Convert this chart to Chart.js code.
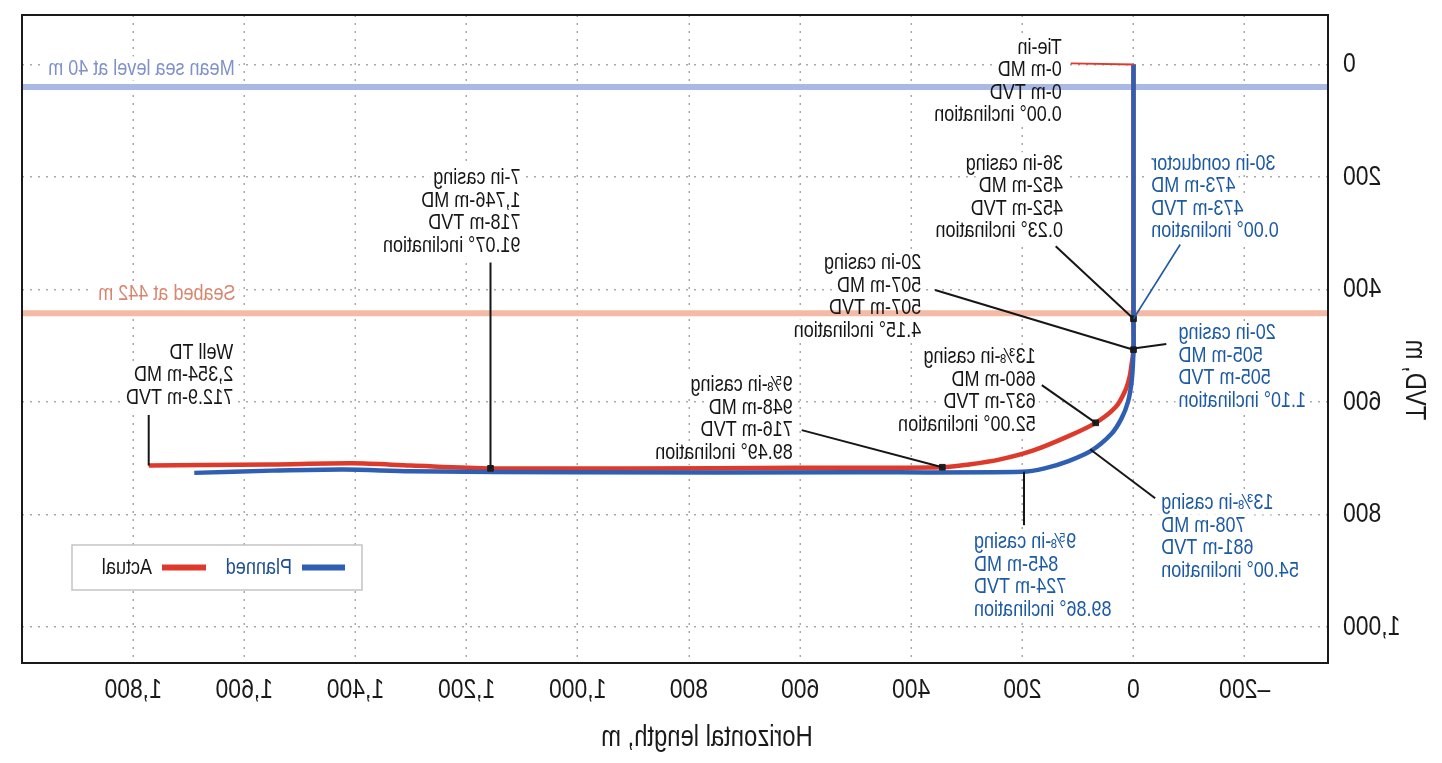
<!DOCTYPE html>
<html>
<head>
<meta charset="utf-8">
<title>Well path</title>
<script src="https://cdn.jsdelivr.net/npm/chart.js@4.4.1/dist/chart.umd.min.js"></script>
<style>
  html, body { margin: 0; padding: 0; background: #fff; }
  /* the reference picture is a mirror image, so the whole canvas is flipped */
  #wrap { width: 1442px; height: 763px; transform: scaleX(-1); }
</style>
</head>
<body>
<div id="wrap"><canvas id="wellChart" width="1442" height="763"></canvas></div>
<script>
"use strict";

// planned well path: horizontal length (m) and TVD (m)
var plannedLength = [0, 0, 0, 3, 10, 22, 40, 75, 117, 160, 200, 500, 1000, 1300, 1420, 1550, 1690];
var plannedTVD    = [0, 452, 505, 560, 600, 630, 657, 686, 705, 718, 724, 725, 725, 723, 720, 722, 726];

// actual (drilled) well path
var actualLength = [0, 0, 0, 3, 7, 15, 32, 68, 120, 180, 240, 296, 344, 600, 900, 1157, 1300, 1403, 1550, 1672, 1772];
var actualTVD    = [0, 452, 507, 530, 555, 580, 609, 637, 662, 686, 702, 711, 716, 717, 718, 718, 713, 709, 711, 712, 713];

// casing shoes on the actual path
var casingLength = [0, 0, 68, 344, 1157];
var casingTVD    = [452, 507, 637, 716, 718];

var seaLevelTVD = 40;
var seabedTVD = 442;

var xTicks = [-200, 0, 200, 400, 600, 800, 1000, 1200, 1400, 1600, 1800];
var yTicks = [0, 200, 400, 600, 800, 1000];

var noteLines = [
  ['Tie-in', '0-m MD', '0-m TVD', '0.00\u00b0 inclination'],
  ['36-in casing', '452-m MD', '452-m TVD', '0.23\u00b0 inclination'],
  ['30-in conductor', '473-m MD', '473-m TVD', '0.00\u00b0 inclination'],
  ['20-in casing', '507-m MD', '507-m TVD', '4.15\u00b0 inclination'],
  ['20-in casing', '505-m MD', '505-m TVD', '1.10\u00b0 inclination'],
  ['13\u215c-in casing', '660-m MD', '637-m TVD', '52.00\u00b0 inclination'],
  ['13\u215c-in casing', '708-m MD', '681-m TVD', '54.00\u00b0 inclination'],
  ['9\u215d-in casing', '948-m MD', '716-m TVD', '89.49\u00b0 inclination'],
  ['9\u215d-in casing', '845-m MD', '724-m TVD', '89.86\u00b0 inclination'],
  ['7-in casing', '1,746-m MD', '718-m TVD', '91.07\u00b0 inclination'],
  ['Well TD', '2,354-m MD', '712.9-m TVD']
];

var FONT = "'Liberation Sans', Arial, sans-serif";
var SX = 0.82;   // horizontal squeeze, gives a narrow face
var RED = '#dd3a2c';
var BLUE = '#2e5fb2';
var NOTE_BLUE = '#1d5aa3';
var INK = '#161616';

// where each note sits (data units), and where its leader goes
var noteLayout = [
  {at: [129, -30], align: 'left', color: INK, from: [113, -2], to: [0, 0], lead: RED},
  {at: [127, 176], align: 'left', color: INK, from: [140, 323], to: [0, 452], lead: INK},
  {at: [-32, 176], align: 'right', color: NOTE_BLUE, from: [-84, 320], to: [0, 452], lead: NOTE_BLUE},
  {at: [382, 353], align: 'left', color: INK, from: [357, 401], to: [0, 507], lead: INK},
  {at: [-81, 478], align: 'right', color: NOTE_BLUE, from: [-59, 497], to: [0, 505], lead: INK},
  {at: [176, 520], align: 'left', color: INK, from: [165, 570], to: [68, 637], lead: INK},
  {at: [-50, 780], align: 'right', color: NOTE_BLUE, from: [-39, 771], to: [78, 684], lead: INK},
  {at: [613, 570], align: 'left', color: INK, from: [597, 650], to: [344, 716], lead: INK},
  {at: [287, 849], align: 'right', color: NOTE_BLUE, from: [197, 819], to: [197, 724], lead: INK},
  {at: [1103, 202], align: 'left', color: INK, from: [1157, 352], to: [1157, 718], lead: INK},
  {at: [1620, 512], align: 'left', color: INK, from: [1772, 623], to: [1772, 713], lead: INK}
];

var LINE_H = 22.5;

function pts(xs, ys) {
  return xs.map(function (x, i) { return {x: x, y: ys[i]}; });
}

function fmtTick(v) {
  return v < 0 ? '\u2013' + Math.abs(v).toLocaleString('en-US') : v.toLocaleString('en-US');
}

function narrowText(ctx, txt, x, y, align) {
  ctx.save();
  ctx.translate(x, y);
  ctx.scale(SX, 1);
  ctx.textAlign = align;
  ctx.fillText(txt, 0, 0);
  ctx.restore();
}

function narrowWidth(ctx, txt) {
  return ctx.measureText(txt).width * SX;
}

function eachNoteLine(chart, fn) {
  var xs = chart.scales.x, ys = chart.scales.y;
  noteLayout.forEach(function (n, k) {
    var px = xs.getPixelForValue(n.at[0]);
    var py = ys.getPixelForValue(n.at[1]);
    noteLines[k].forEach(function (txt, j) {
      fn(n, txt, px, py + j * LINE_H);
    });
  });
}

function refLabels(chart) {
  var xs = chart.scales.x, ys = chart.scales.y;
  return [
    {text: 'Mean sea level at ' + seaLevelTVD + ' m', color: '#7f91c9', x: xs.getPixelForValue(1953), y: ys.getPixelForValue(7)},
    {text: 'Seabed at ' + seabedTVD + ' m', color: '#d98670', x: xs.getPixelForValue(1863), y: ys.getPixelForValue(407)}
  ];
}

var notesPlugin = {
  id: 'notes',
  beforeDatasetsDraw: function (chart) {
    var ctx = chart.ctx;
    ctx.save();
    ctx.font = '22px ' + FONT;
    ctx.fillStyle = '#fff';
    eachNoteLine(chart, function (n, txt, x, y) {
      var w = narrowWidth(ctx, txt);
      var left = n.align === 'left' ? x : x - w;
      ctx.fillRect(left - 3, y - LINE_H / 2, w + 6, LINE_H);
    });
    refLabels(chart).forEach(function (r) {
      var w = narrowWidth(ctx, r.text);
      ctx.fillRect(r.x - w - 4, r.y - 12, w + 8, 24);
    });
    ctx.restore();
  },
  afterDatasetsDraw: function (chart) {
    var ctx = chart.ctx, xs = chart.scales.x, ys = chart.scales.y;
    ctx.save();
    // leaders
    noteLayout.forEach(function (n) {
      ctx.beginPath();
      ctx.strokeStyle = n.lead;
      ctx.lineWidth = n.lead === NOTE_BLUE ? 1.6 : 2;
      ctx.moveTo(xs.getPixelForValue(n.from[0]), ys.getPixelForValue(n.from[1]));
      ctx.lineTo(xs.getPixelForValue(n.to[0]), ys.getPixelForValue(n.to[1]));
      ctx.stroke();
    });
    // note text
    ctx.font = '22px ' + FONT;
    ctx.textBaseline = 'middle';
    eachNoteLine(chart, function (n, txt, x, y) {
      ctx.fillStyle = n.color;
      narrowText(ctx, txt, x, y, n.align);
    });
    // reference line labels
    refLabels(chart).forEach(function (r) {
      ctx.fillStyle = r.color;
      narrowText(ctx, r.text, r.x, r.y, 'right');
    });
    ctx.restore();
  },
  afterDraw: function (chart) {
    var ctx = chart.ctx, a = chart.chartArea, xs = chart.scales.x, ys = chart.scales.y;
    ctx.save();
    // frame round the plot
    ctx.strokeStyle = '#1a1a1a';
    ctx.lineWidth = 2;
    ctx.strokeRect(a.left, a.top, a.right - a.left, a.bottom - a.top);

    // tick labels and axis titles, squeezed like the narrow face of the original
    ctx.font = '28px ' + FONT;
    ctx.fillStyle = '#1a1a1a';
    ctx.textBaseline = 'middle';
    xs.ticks.forEach(function (t) {
      narrowText(ctx, fmtTick(t.value), xs.getPixelForValue(t.value), a.bottom + 27, 'center');
    });
    ys.ticks.forEach(function (t) {
      narrowText(ctx, fmtTick(t.value), a.left - 15, ys.getPixelForValue(t.value), 'right');
    });
    ctx.font = '29px ' + FONT;
    narrowText(ctx, 'Horizontal length, m', a.left + 621, a.bottom + 75, 'center');
    ctx.save();
    ctx.translate(a.left - 86, 380);
    ctx.rotate(-Math.PI / 2);
    narrowText(ctx, 'TVD, m', 0, 0, 'center');
    ctx.restore();

    // legend box
    var bx = a.right - 340, by = a.bottom - 118, bw = 290, bh = 45;
    ctx.fillStyle = '#fff';
    ctx.fillRect(bx, by, bw, bh);
    ctx.strokeStyle = '#c4c4c4';
    ctx.lineWidth = 1.5;
    ctx.strokeRect(bx, by, bw, bh);
    var cy = by + bh / 2;
    ctx.lineWidth = 6;
    ctx.strokeStyle = BLUE;
    ctx.beginPath(); ctx.moveTo(bx + 17, cy); ctx.lineTo(bx + 60, cy); ctx.stroke();
    ctx.strokeStyle = RED;
    ctx.beginPath(); ctx.moveTo(bx + 156, cy); ctx.lineTo(bx + 200, cy); ctx.stroke();
    ctx.font = '22px ' + FONT;
    ctx.fillStyle = '#1f4f90';
    narrowText(ctx, 'Planned', bx + 70, cy, 'left');
    ctx.fillStyle = INK;
    narrowText(ctx, 'Actual', bx + 210, cy, 'left');
    ctx.restore();
  }
};

Chart.defaults.font.family = FONT;

function buildChart() {
  var ctx = document.getElementById('wellChart');
  return new Chart(ctx, {
    type: 'scatter',
    data: {
      datasets: [
        {
          label: 'Casing',
          data: pts(casingLength, casingTVD),
          pointStyle: 'rect',
          pointRadius: 4,
          backgroundColor: '#1e1e1e',
          borderColor: '#1e1e1e',
          showLine: false
        },
        {
          label: 'Planned',
          data: pts(plannedLength, plannedTVD),
          showLine: true,
          borderColor: BLUE,
          borderWidth: 4.5,
          tension: 0.3,
          pointRadius: 0
        },
        {
          label: 'Actual',
          data: pts(actualLength, actualTVD),
          showLine: true,
          borderColor: RED,
          borderWidth: 4.5,
          tension: 0.3,
          pointRadius: 0
        },
        {
          label: 'Mean sea level',
          data: [{x: -350, y: seaLevelTVD}, {x: 2000, y: seaLevelTVD}],
          showLine: true,
          borderColor: '#aab9e3',
          borderWidth: 6,
          pointRadius: 0
        },
        {
          label: 'Seabed',
          data: [{x: -350, y: seabedTVD}, {x: 2000, y: seabedTVD}],
          showLine: true,
          borderColor: '#f5baa5',
          borderWidth: 6,
          pointRadius: 0
        }
      ]
    },
    options: {
      responsive: false,
      animation: false,
      layout: {padding: {top: 15, right: 22, bottom: 0, left: 0}},
      plugins: {legend: {display: false}, tooltip: {enabled: false}},
      scales: {
        x: {
          type: 'linear',
          min: -350,
          max: 2000,
          afterFit: function (s) { s.height = 100; s.paddingLeft = 0; s.paddingRight = 0; },
          afterBuildTicks: function (s) { s.ticks = xTicks.map(function (v) { return {value: v}; }); },
          ticks: {display: false},
          grid: {color: '#a9a9a9', lineWidth: 1.5, drawTicks: false},
          border: {display: false, dash: [2, 6]}
        },
        y: {
          type: 'linear',
          reverse: true,
          min: -88,
          max: 1064,
          afterFit: function (s) { s.width = 114; s.paddingTop = 0; s.paddingBottom = 0; },
          afterBuildTicks: function (s) { s.ticks = yTicks.map(function (v) { return {value: v}; }); },
          ticks: {display: false},
          grid: {color: '#a9a9a9', lineWidth: 1.5, drawTicks: false},
          border: {display: false, dash: [2, 6]}
        }
      }
    },
    plugins: [notesPlugin]
  });
}

buildChart();
</script>
</body>
</html>
